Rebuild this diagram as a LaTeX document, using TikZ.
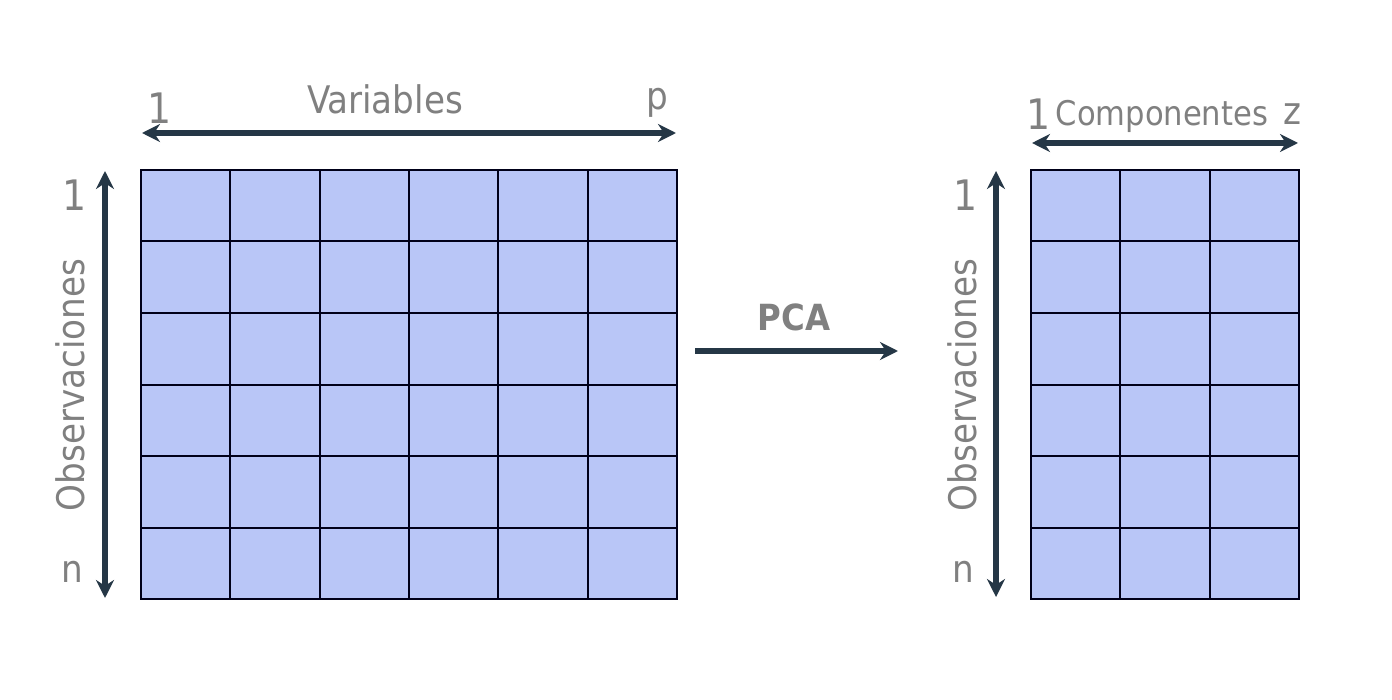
\documentclass[tikz,border=0pt]{standalone}
\usepackage{fontspec}
\setmainfont{DejaVu Sans Condensed}
\usetikzlibrary{arrows.meta,positioning}
\definecolor{cellblue}{HTML}{B9C6F7}
\definecolor{arrowdark}{HTML}{253746}
\definecolor{labelgray}{HTML}{808080}
\begin{document}
\begin{tikzpicture}[x=0.5pt, y=-0.5pt]
    \tikzstyle{cell} = [draw=black!90!blue, line width=1pt, fill=cellblue, minimum width=44.67pt, minimum height=35.75pt, inner sep=0pt]
    \tikzstyle{axis} = [draw=arrowdark, line width=2.6pt, {Stealth[length=9pt, width=9pt]}-{Stealth[length=9pt, width=9pt]}]
    \tikzstyle{lbl} = [text=labelgray, inner sep=0pt, font=\fontsize{19}{22}\selectfont]
    \tikzstyle{num} = [text=labelgray, inner sep=0pt, font=\fontsize{21}{24}\selectfont]

    \useasboundingbox (0,0) rectangle (1392,700);

    % left matrix 6 x 6
    \foreach \i in {0,...,5}
        \foreach \j in {0,...,5}
            \node[cell, anchor=north west] (L-\i-\j) at ({140+89.33*\i},{169+71.5*\j}) {};
    % right matrix 3 x 6
    \foreach \i in {0,...,2}
        \foreach \j in {0,...,5}
            \node[cell, anchor=north west] (R-\i-\j) at ({1030+89.33*\i},{169+71.5*\j}) {};

    % axis ends
    \coordinate (varL) at (142,133);
    \coordinate (varR) at (676,133);
    \coordinate (obsT) at (105,171);
    \coordinate (obsB) at (105,598);
    \coordinate (comL) at (1032,143);
    \coordinate (comR) at (1298,143);
    \coordinate (obs2T) at (996,171);
    \coordinate (obs2B) at (996,597);
    \coordinate (pcaL) at (695,351);
    \coordinate (pcaR) at (898,351);

    \draw[axis] (varL) -- (varR);
    \draw[axis] (obsT) -- (obsB);
    \draw[axis] (comL) -- (comR);
    \draw[axis] (obs2T) -- (obs2B);
    \draw[draw=arrowdark, line width=2.6pt, -{Stealth[length=9pt, width=9pt]}] (pcaL) -- (pcaR);

    % labels
    \node[lbl] (variables) at (385,99) {Variables};
    \node[num] (var1) at (160,108) {1};
    \node[lbl] (varp) at (657,103) {p};
    \node[lbl, rotate=90] (obs) at (70,385) {Observaciones};
    \node[num] (obs1) at (75,195) {1};
    \node[lbl] (obsn) at (72,572) {n};
    \node[lbl, font=\fontsize{17}{20}\selectfont] (comp) at (1162,116) {Componentes};
    \node[num] (com1) at (1039,114) {1};
    \node[lbl] (comz) at (1292,114) {z};
    \node[lbl, rotate=90] (obs2) at (962,385) {Observaciones};
    \node[num] (obs21) at (966,195) {1};
    \node[lbl] (obs2n) at (963,572) {n};
    \node[lbl, font=\bfseries\fontsize{18}{21}\selectfont] (pca) at (794,317) {PCA};
\end{tikzpicture}
\end{document}
